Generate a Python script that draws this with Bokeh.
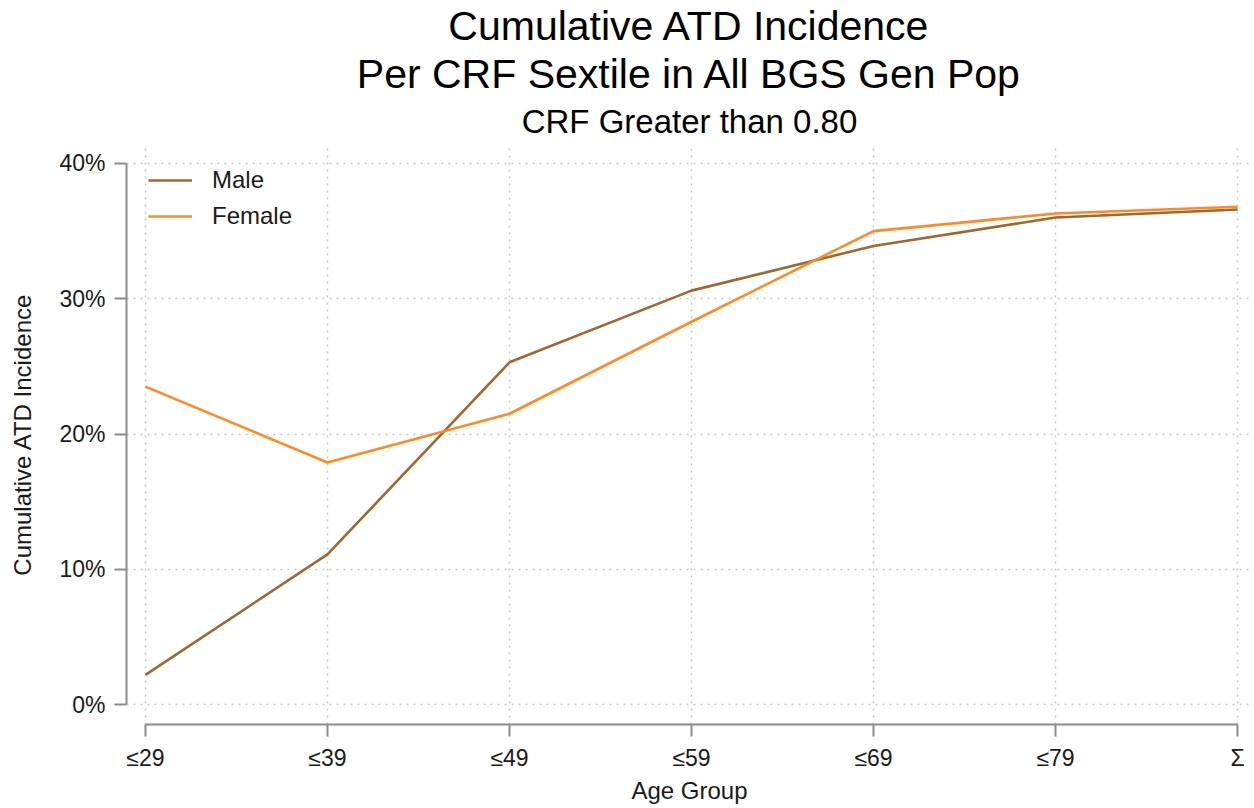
from bokeh.plotting import figure
from bokeh.models import Range1d, FixedTicker, Title, Legend, LegendItem
from bokeh.embed import file_html
from bokeh.resources import INLINE

# Cumulative incidence (%) by age group
age_groups = ["≤29", "≤39", "≤49", "≤59", "≤69", "≤79", "Σ"]
male = [2.2, 11.1, 25.3, 30.6, 33.9, 36.0, 36.6]
female = [23.5, 17.9, 21.5, 28.3, 35.0, 36.3, 36.8]
y_ticks = [0, 10, 20, 30, 40]
y_tick_labels = ["0%", "10%", "20%", "30%", "40%"]

x = list(range(len(age_groups)))

FONT = "Liberation Sans"
AXIS_GRAY = "#8c8c8c"
TEXT = "#1a1a1a"

p = figure(
    width=1254, height=808,
    x_range=Range1d(-0.104, 6.082),
    y_range=Range1d(-1.47, 41.4),
    output_backend="svg", toolbar_location=None,
    title=None,
    min_border_left=126, min_border_right=2,
    min_border_top=143, min_border_bottom=84,
    outline_line_color=None,
)

# stacked titles: innermost first
p.add_layout(Title(text="CRF Greater than 0.80", align="center",
                   text_font=FONT, text_font_size="33px",
                   text_font_style="normal", text_color="black", standoff=9), "above")
p.add_layout(Title(text="Per CRF Sextile in All BGS Gen Pop", align="center",
                   text_font=FONT, text_font_size="41px",
                   text_font_style="normal", text_color="black", standoff=0), "above")
p.add_layout(Title(text="Cumulative ATD Incidence", align="center",
                   text_font=FONT, text_font_size="41px",
                   text_font_style="normal", text_color="black", standoff=0), "above")

r_male = p.line(x, male, line_color="#a0672e", line_width=2.6)
r_female = p.line(x, female, line_color="#ff8a24", line_width=2.6)

legend = Legend(
    items=[LegendItem(label="Male", renderers=[r_male]),
           LegendItem(label="Female", renderers=[r_female])],
    location="top_left",
    label_text_font=FONT, label_text_font_size="24px", label_text_color=TEXT,
    glyph_width=44, glyph_height=24, label_height=24, label_standoff=20,
    spacing=8, padding=10, margin=22,
    border_line_color=None, background_fill_alpha=0,
)
p.add_layout(legend)

# axes
p.xaxis.ticker = FixedTicker(ticks=x)
p.xaxis.major_label_overrides = {i: lab for i, lab in zip(x, age_groups)}
p.xaxis.bounds = (0, len(age_groups) - 1)
p.xaxis.axis_label = "Age Group"

p.yaxis.ticker = FixedTicker(ticks=y_ticks)
p.yaxis.major_label_overrides = {v: lab for v, lab in zip(y_ticks, y_tick_labels)}
p.yaxis.bounds = (y_ticks[0], y_ticks[-1])
p.yaxis.axis_label = "Cumulative ATD Incidence"

for ax in (p.xaxis, p.yaxis):
    ax.axis_line_color = AXIS_GRAY
    ax.axis_line_width = 2
    ax.major_tick_line_color = AXIS_GRAY
    ax.major_tick_line_width = 2
    ax.major_tick_out = 12
    ax.major_tick_in = 0
    ax.minor_tick_out = 0
    ax.minor_tick_in = 0
    ax.major_label_text_font = FONT
    ax.major_label_text_font_size = "23px"
    ax.major_label_text_color = TEXT
    ax.axis_label_text_font = FONT
    ax.axis_label_text_font_size = "24px"
    ax.axis_label_text_font_style = "normal"
    ax.axis_label_text_color = TEXT

p.xaxis.major_label_standoff = 8
p.xaxis.axis_label_standoff = 3
p.yaxis.major_label_standoff = 9
p.yaxis.axis_label_standoff = 20

# dotted grid
p.grid.grid_line_color = "#c8c8c8"
p.grid.grid_line_width = 1.5
p.grid.grid_line_dash = "2 5"

open("out.html", "w").write(file_html(p, INLINE))
